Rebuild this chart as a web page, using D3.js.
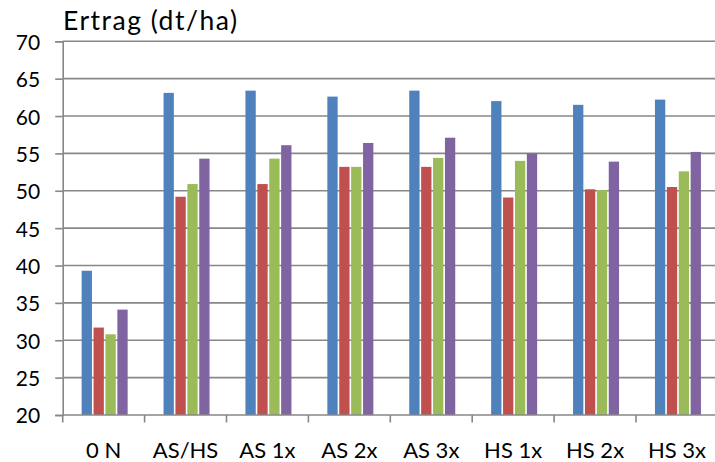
<!DOCTYPE html>
<html>
<head>
<meta charset="utf-8">
<script src="https://cdn.jsdelivr.net/npm/d3@7"></script>
<style>
  html, body { margin: 0; padding: 0; background: #fff; }
  svg { display: block; }
  text { font-family: Lato, "Open Sans", sans-serif; fill: #000; }
</style>
</head>
<body>
<svg id="chart" width="715" height="462"></svg>
<script>
const categories = ["0 N", "AS/HS", "AS 1x", "AS 2x", "AS 3x", "HS 1x", "HS 2x", "HS 3x"];
const seriesNames = ["S1", "S2", "S3", "S4"];
const seriesColors = ["#4F81BD", "#C0504D", "#9BBB59", "#8064A2"];
const s1Values = [39.3, 63.1, 63.4, 62.6, 63.4, 62.0, 61.5, 62.2];
const s2Values = [31.7, 49.2, 50.9, 53.2, 53.2, 49.1, 50.2, 50.5];
const s3Values = [30.8, 50.9, 54.3, 53.2, 54.4, 54.0, 50.1, 52.6];
const s4Values = [34.1, 54.3, 56.1, 56.4, 57.1, 55.0, 53.9, 55.2];
const yTicks = [20, 25, 30, 35, 40, 45, 50, 55, 60, 65, 70];
const titleText = "Ertrag (dt/ha)";

(function () {
const seriesValues = [s1Values, s2Values, s3Values, s4Values];

const svg = d3.select("#chart");
const plotLeft = 62.7, plotTop = 41.3, plotBottom = 415, bandW = 81.9;
const plotRight = plotLeft + bandW * categories.length;

const x0 = d3.scaleBand().domain(categories).range([plotLeft, plotRight]).paddingInner(0).paddingOuter(0);
const groupW = 47.6;
const x1 = d3.scaleBand().domain(seriesNames).range([0, groupW]);
const y = d3.scaleLinear().domain([20, 70]).range([plotBottom, plotTop]);

const gridColor = "#878787";

// gridlines
svg.append("g").selectAll("line").data(yTicks.filter(t => t !== 20)).join("line")
  .attr("x1", plotLeft).attr("x2", 715)
  .attr("y1", d => y(d)).attr("y2", d => y(d))
  .attr("stroke", gridColor).attr("stroke-width", 1.6);

// bars
const groups = svg.append("g").selectAll("g").data(categories).join("g")
  .attr("transform", c => `translate(${x0(c) + (x0.bandwidth() - groupW) / 2 + 1},0)`);
groups.selectAll("rect").data((c, i) => seriesNames.map((s, j) => ({s, j, v: seriesValues[j][i]})))
  .join("rect")
  .attr("x", d => x1(d.s) + 0.8)
  .attr("width", x1.bandwidth() - 1.6)
  .attr("y", d => y(d.v))
  .attr("height", d => y(20) - y(d.v))
  .attr("fill", d => seriesColors[d.j]);

// y axis
const yAxis = d3.axisLeft(y).tickValues(yTicks).tickSize(7.5).tickPadding(15).tickFormat(d3.format("d"));
const gy = svg.append("g").attr("transform", `translate(${plotLeft},0)`).call(yAxis);
gy.select(".domain").attr("stroke", gridColor).attr("stroke-width", 1.6);
gy.selectAll(".tick line").attr("stroke", gridColor).attr("stroke-width", 1.6);
gy.selectAll(".tick text").attr("font-size", 21).attr("font-family", "Lato, sans-serif").attr("fill", "#000").attr("dy", "0.38em");

// x axis
const xAxis = d3.axisBottom(x0).tickSize(0).tickPadding(27);
const gx = svg.append("g").attr("transform", `translate(0,${plotBottom})`).call(xAxis);
gx.select(".domain").remove();
gx.selectAll(".tick text").attr("font-size", 22).attr("font-family", "Lato, sans-serif").attr("fill", "#000");
svg.append("line").attr("x1", plotLeft).attr("x2", 715).attr("y1", plotBottom).attr("y2", plotBottom)
  .attr("stroke", gridColor).attr("stroke-width", 1.6);
const bounds = d3.range(categories.length + 1).map(i => plotLeft + i * x0.step());
svg.append("g").selectAll("line").data(bounds.filter(b => b <= 715)).join("line")
  .attr("x1", d => d).attr("x2", d => d).attr("y1", plotBottom).attr("y2", plotBottom + 7.5)
  .attr("stroke", gridColor).attr("stroke-width", 1.6);

// title
svg.append("text").attr("x", 63).attr("y", 30).attr("font-size", 26.5)
  .attr("textLength", 174).attr("lengthAdjust", "spacing").text(titleText);
})();
</script>
</body>
</html>
